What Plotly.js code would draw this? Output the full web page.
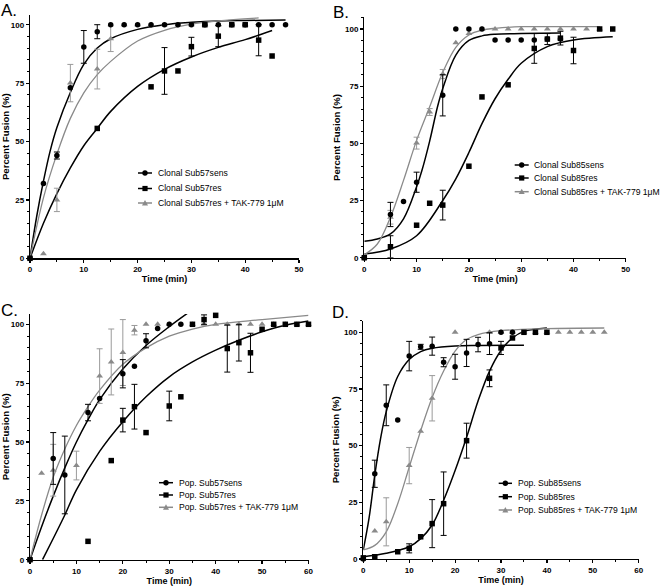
<!DOCTYPE html>
<html><head><meta charset="utf-8">
<script src="https://cdn.plot.ly/plotly-3.0.1.min.js"></script>
<style>html,body{margin:0;padding:0;background:#fff}#chart{width:664px;height:586px}</style>
</head><body><div id="chart"></div>
<script>
// ================= DATA =================
// Panel A: Clonal Sub57
const aSensX = [0,2.5,5,7.5,10,12.5,15,17.5,20,22.5,25,27.5,30,32.5,35,37.5,40,42.5,45,47.5];
const aSensY = [0,32,44,73,90.5,97,100,100,100,100,100,100,100,100,100,100,100,100,100,100];
const aSensE = [NaN,NaN,1.5,NaN,7,3,NaN,NaN,NaN,NaN,NaN,NaN,NaN,NaN,NaN,NaN,NaN,NaN,NaN,NaN];
const aResX = [0,12.5,22.5,25,27.5,30,32.5,35,37.5,40,42.5,45];
const aResY = [0,55.6,73.4,80.2,80.2,90.6,100,95.1,100,100,93.4,86.6];
const aResE = [NaN,NaN,NaN,10,NaN,4,NaN,4.5,NaN,NaN,6.7,NaN];
const aTakX = [0,2.5,5,7.5,12.5,15,17.5,20,22.5,25,27.5,30,32.5,35,37.5,40,42.5];
const aTakY = [0,2,25,75,81,94,100,100,100,100,100,100,100,100,100,100,100];
const aTakE = [NaN,NaN,5,8,8.5,5.5,NaN,NaN,NaN,NaN,NaN,NaN,NaN,NaN,NaN,NaN,NaN];
const aSensFitX = [0,1.25,2.5,3.75,5,7.5,10,12.5,15,20,25,30,35,40,47.5];
const aSensFitY = [0,18,33,46,56,71,83,90,94,98,100,101,101.6,101.8,102];
const aResFitX = [0,2.5,5,7.5,10,12.5,15,20,25,30,35,40,45];
const aResFitY = [0,15,27.7,38.7,48.2,55.6,62.9,73.6,80.9,86.2,90.3,93.6,97.5];
const aTakFitX = [0,2.5,5,7.5,10,12.5,15,20,25,30,35,42.5];
const aTakFitY = [0,25.9,44.6,59.9,70.8,78.6,84.3,93,97.6,100.2,101.6,102.9];

// Panel B: Clonal Sub85
const bSensX = [0,5,7.5,10,15,17.5,20,22.5,25,27.5,30,32.5,35,37.5];
const bSensY = [0,18.9,24.6,33,71,100,100,100,95.2,95.2,95.2,95.2,95.6,95.6];
const bSensE = [NaN,5.3,NaN,4.4,9,NaN,NaN,NaN,NaN,NaN,NaN,NaN,NaN,NaN];
const bResX = [0,5,10,12.5,15,20,22.5,27.5,32.5,35,37.5,40,45,47.5];
const bResY = [0,4.8,14.2,23.8,23,40,70.3,75.6,91.5,95.6,96,90.6,100,100];
const bResE = [NaN,4.8,NaN,NaN,6.5,NaN,NaN,NaN,6.5,2.4,3,5.8,NaN,NaN];
const bTakX = [0,5,10,12.5,15,17.5,20,22.5,25,27.5,30,32.5,35,37.5,40,42.5,45];
const bTakY = [0,17.7,50.1,63.7,80.3,94,98,100,100,100,100,100,100,100,100,100,100];
const bTakE = [NaN,3,2.6,1.5,2,NaN,NaN,NaN,NaN,NaN,NaN,NaN,NaN,NaN,NaN,NaN,NaN];
const bSensFitX = [0,2.5,5,7.5,10,11,12.5,14,15,17.5,20,22.5,25,30,37.5];
const bSensFitY = [7.2,8.2,10.4,17,31,38,51,66,74,88.6,95,97,97.7,98,98.2];
const bResFitX = [0,5,10,15,17.5,20,22.5,25,27.5,30,35,40,47.5];
const bResFitY = [1.6,3.8,9.6,25,34.5,46,58.6,69.5,78,85,92.3,95.2,96.6];
const bTakFitX = [0,2.5,5,7.5,10,12.5,15,17.5,20,22.5,25,30,35,45];
const bTakFitY = [1.3,6,17.7,33.8,51.3,66,81,92,97.4,99.5,100.3,101,101,101];

// Panel C: Pop. Sub57
const cSensX = [0,5,7.5,12.5,15,20,22.5,25,27.5,30,32.5];
const cSensY = [0,43,36,62.5,68.5,79,82.2,93,98.2,100,100];
const cSensE = [NaN,11,16.5,3.5,NaN,6,NaN,3,NaN,NaN,NaN];
const cResX = [0,12.5,17.5,20,22.5,25,30,32.5,35,37.5,40,42.5,45,47.5,50,52.5,55,57.5,60];
const cResY = [0,7.8,42.1,59.3,65,54,65.3,69.2,100,102,103.8,89.7,92.2,87.9,97.9,100,100,100,100];
const cResE = [NaN,NaN,NaN,5,9.5,NaN,6.3,NaN,NaN,2,NaN,10,7.8,8.3,NaN,NaN,NaN,NaN,NaN];
const cTakX = [0,2.5,5,10,15,17.5,20,22.5,25,27.5,30,35,37.5,40,42.5,45,47.5,50,52.5,55,57.5,60];
const cTakY = [0,36.7,38,40,78,84,88,97.5,100,100,100,100,100,100,100,100,100,100,100,100,100,100];
const cTakE = [NaN,NaN,11,6.1,11.6,14,14,2,NaN,NaN,NaN,NaN,NaN,NaN,NaN,NaN,NaN,NaN,NaN,NaN,NaN,NaN];
const cSensFitX = [0,2.5,5,7.5,10,12.5,15,20,25,30,34.5];
const cSensFitY = [0,14,27,39,50,59.5,68,81,91,99,105.5];
const cResFitX = [2.7,5,7.5,10,15,20,25,30,35,40,45,50,55,60];
const cResFitY = [0,9,19,29.7,46,58.6,69.2,77.7,84,89,93.2,96.8,99.6,101.4];
const cTakFitX = [0,2.5,5,7.5,10,12.5,15,20,25,30,35,40,50,60];
const cTakFitY = [0,19,35,47,57,65,72,83,90,95,98,100,102,103.8];

// Panel D: Pop. Sub85
const dSensX = [0,2.5,5,7.5,10,12.5,15,17.5,20,22.5,25,27.5,30,32.5];
const dSensY = [0,37.6,67.8,61.3,89.5,93.6,93.9,86.8,84.8,90.9,94.6,95,100,100];
const dSensE = [NaN,6,9,NaN,6.5,1.1,4,2,5.5,6,3.2,4.8,NaN,NaN];
const dResX = [0,2.5,7.5,10,12.5,15,17.5,22.5,27.5,30,32.5,35,37.5,40];
const dResY = [0.5,1,3.2,4.7,9.8,15.6,24.4,52.2,79.7,93.1,97.5,100,100,100];
const dResE = [NaN,NaN,NaN,2,NaN,10.6,14,7.7,3.7,2.9,NaN,NaN,NaN,NaN];
const dTakX = [2.5,5,10,12.5,15,20,27.5,30,32.5,35,37.5,40,42.5,45,47.5,50,52.5];
const dTakY = [12.3,16.4,41.2,56.3,70.9,100,100,100,100,100,100,100,100,100,100,100,100];
const dTakE = [NaN,10.6,8,NaN,10,NaN,NaN,NaN,NaN,NaN,NaN,NaN,NaN,NaN,NaN,NaN,NaN];
const dSensFitX = [0,1.25,2.5,3.75,5,7.5,10,12.5,15,20,25,35];
const dSensFitY = [4,18,37,53,65,80.5,88,91.5,93,94,94.2,94.3];
const dResFitX = [0,5,10,12.5,15,17.5,20,22.5,25,27.5,30,32.5,35,40];
const dResFitY = [1,2.5,5.4,9,15,25.9,39,53.7,69.7,82.9,92,97.5,100.4,101.9];
const dTakFitX = [0,2.5,5,7.5,10,12.5,15,17.5,20,22.5,25,30,40,52.5];
const dTakFitY = [4,6,12,24.4,40.5,56.6,71.2,82.9,91.7,96.8,99,100.7,101.6,101.9];

// Legend labels
const aLabels = ['Clonal Sub57sens','Clonal Sub57res','Clonal Sub57res + TAK-779 1\u03bcM'];
const bLabels = ['Clonal Sub85sens','Clonal Sub85res','Clonal Sub85res + TAK-779 1\u03bcM'];
const cLabels = ['Pop. Sub57sens','Pop. Sub57res','Pop. Sub57res + TAK-779 1\u03bcM'];
const dLabels = ['Pop. Sub85sens','Pop. Sub85res','Pop. Sub85res + TAK-779 1\u03bcM'];
const panelLetters = ['A.','B.','C.','D.'];
const xTitle = 'Time (min)';
const yTitle = 'Percent Fusion (%)';

// ================= LAYOUT / STYLE =================
const W = 664, H = 586;
const px = x => x / W, py = y => 1 - y / H;
const FONT = 'Liberation Sans, Arial, Helvetica, sans-serif';
const BLACK = '#000000', GRAY = '#8a8a8a', EGRAY = '#9a9a9a';

const panels = [
  {data:[aSensX,aSensY,aSensE,aResX,aResY,aResE,aTakX,aTakY,aTakE],
   fits:[aSensFitX,aSensFitY,aResFitX,aResFitY,aTakFitX,aTakFitY],
   labels:aLabels, xpx:[30,299], ybot:258.3, y100:24.7, ytop:15, xmax:50,
   leg:{lx:[138,152], tx:157, rows:[173,188.5,203]}, letter:{x:0, top:2.7}},
  {data:[bSensX,bSensY,bSensE,bResX,bResY,bResE,bTakX,bTakY,bTakE],
   fits:[bSensFitX,bSensFitY,bResFitX,bResFitY,bTakFitX,bTakFitY],
   labels:bLabels, xpx:[364.3,625.8], ybot:257.7, y100:29, ytop:17.3, xmax:50,
   leg:{lx:[514.7,528.7], tx:533, rows:[165,178,191.7]}, letter:{x:332, top:4.8}},
  {data:[cSensX,cSensY,cSensE,cResX,cResY,cResE,cTakX,cTakY,cTakE],
   fits:[cSensFitX,cSensFitY,cResFitX,cResFitY,cTakFitX,cTakFitY],
   labels:cLabels, xpx:[30,308.5], ybot:559.7, y100:324.3, ytop:314, xmax:60,
   leg:{lx:[159,173], tx:177.7, rows:[482.7,495,507.3]}, letter:{x:0, top:303.3}},
  {data:[dSensX,dSensY,dSensE,dResX,dResY,dResE,dTakX,dTakY,dTakE],
   fits:[dSensFitX,dSensFitY,dResFitX,dResFitY,dTakFitX,dTakFitY],
   labels:dLabels, xpx:[363.3,638.7], ybot:559, y100:332.3, ytop:320.7, xmax:60,
   leg:{lx:[498.7,512], tx:517, rows:[483.3,496.7,510]}, letter:{x:331, top:305}}
];

const traces = [];
const layout = {
  width: W, height: H, margin:{l:0,r:0,t:0,b:0}, showlegend:false,
  paper_bgcolor:'#ffffff', plot_bgcolor:'rgba(0,0,0,0)',
  font:{family:FONT, color:'#000'},
  shapes:[], annotations:[]
};

const series = [
  {sym:'circle', color:BLACK, ecolor:BLACK, size:5.5},
  {sym:'square', color:BLACK, ecolor:BLACK, size:5.5},
  {sym:'triangle-up', color:GRAY, ecolor:EGRAY, size:6}
];

panels.forEach((p, i) => {
  const n = i === 0 ? '' : String(i + 1);
  const xa = 'x' + n, ya = 'y' + n;
  const perUnit = (p.ybot - p.y100) / 100;
  const ymax = (p.ybot - p.ytop) / perUnit;
  const tickfont = {family:FONT, size:8, color:'#000', weight:'bold'};
  layout['xaxis' + n] = {
    domain:[px(p.xpx[0]), px(p.xpx[1])], range:[0, p.xmax], anchor:ya,
    showline:true, linecolor:'#000', linewidth:1.3, showgrid:false, zeroline:false,
    ticks:'outside', ticklen:3, tickwidth:1.2, tickcolor:'#000', tick0:0, dtick:10,
    minor:{dtick:5, ticks:'outside', ticklen:2, tickwidth:1, tickcolor:'#000', showgrid:false},
    tickfont:tickfont, fixedrange:true,
    title:{text:xTitle, font:{family:FONT, size:9, color:'#000', weight:'bold'}, standoff:2}
  };
  layout['yaxis' + n] = {
    domain:[py(p.ybot), py(p.ytop)], range:[0, ymax], anchor:xa,
    showline:true, linecolor:'#000', linewidth:1.3, showgrid:false, zeroline:false,
    ticks:'outside', ticklen:3, tickwidth:1.2, tickcolor:'#000', tick0:0, dtick:25,
    minor:{dtick:5, ticks:'outside', ticklen:2, tickwidth:1, tickcolor:'#000', showgrid:false},
    tickfont:tickfont, fixedrange:true,
    title:{text:yTitle, font:{family:FONT, size:9.6, color:'#000', weight:'bold'}, standoff:2}
  };
  // fit curves
  for (let k = 0; k < 3; k++) {
    traces.push({
      type:'scatter', mode:'lines', x:p.fits[2*k], y:p.fits[2*k+1], xaxis:xa, yaxis:ya,
      line:{color:series[k].color, width:k===2?1.3:1.5, shape:'spline', smoothing:1},
      hoverinfo:'skip', cliponaxis:false
    });
  }
  // data points: draw TAK first then res then sens
  [2,1,0].forEach(k => {
    traces.push({
      type:'scatter', mode:'markers', name:p.labels[k],
      x:p.data[3*k], y:p.data[3*k+1], xaxis:xa, yaxis:ya, cliponaxis:false,
      marker:{symbol:series[k].sym, size:series[k].size, color:series[k].color, line:{width:0}},
      error_y:{type:'data', array:p.data[3*k+2], visible:true, color:series[k].ecolor, thickness:1, width:3}
    });
  });
  // legend (drawn as shapes + text)
  p.leg.rows.forEach((ry, k) => {
    const s = series[k];
    const cx = (p.leg.lx[0] + p.leg.lx[1]) / 2;
    layout.shapes.push({type:'line', xref:'paper', yref:'paper',
      x0:px(p.leg.lx[0]), x1:px(p.leg.lx[1]), y0:py(ry), y1:py(ry),
      line:{color:s.color, width:1.5}});
    if (s.sym === 'circle') {
      layout.shapes.push({type:'circle', xref:'paper', yref:'paper',
        x0:px(cx-2.7), x1:px(cx+2.7), y0:py(ry+2.7), y1:py(ry-2.7),
        fillcolor:s.color, line:{width:0}});
    } else if (s.sym === 'square') {
      layout.shapes.push({type:'rect', xref:'paper', yref:'paper',
        x0:px(cx-2.6), x1:px(cx+2.6), y0:py(ry+2.6), y1:py(ry-2.6),
        fillcolor:s.color, line:{width:0}});
    } else {
      layout.shapes.push({type:'path', xref:'paper', yref:'paper',
        path:`M ${px(cx-3)},${py(ry+2.4)} L ${px(cx+3)},${py(ry+2.4)} L ${px(cx)},${py(ry-3)} Z`,
        fillcolor:s.color, line:{width:0}});
    }
    layout.annotations.push({xref:'paper', yref:'paper', x:px(p.leg.tx-1), y:py(ry),
      xanchor:'left', yanchor:'middle', showarrow:false, text:p.labels[k],
      font:{family:FONT, size:8.6, color:'#000'}});
  });
  // panel letter
  layout.annotations.push({xref:'paper', yref:'paper', x:px(p.letter.x-1), y:py(p.letter.top-4.2),
    xanchor:'left', yanchor:'top', showarrow:false, text:panelLetters[i],
    font:{family:'Liberation Sans, Arial, sans-serif', size:17, color:'#000'}});
});

Plotly.newPlot('chart', traces, layout, {displayModeBar:false, staticPlot:true});
</script>
</body></html>
